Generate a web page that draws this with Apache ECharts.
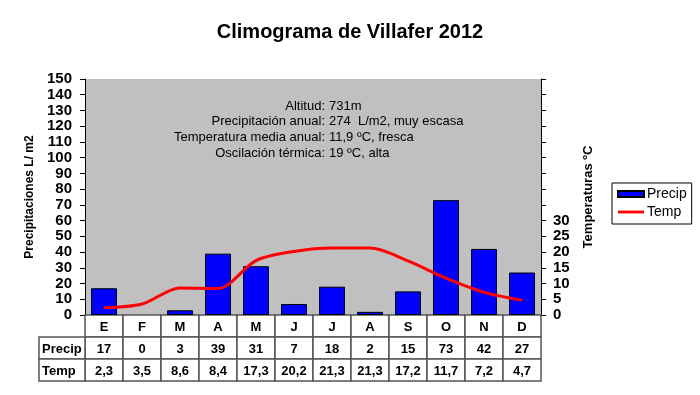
<!DOCTYPE html>
<html>
<head>
<meta charset="utf-8">
<script src="https://cdn.jsdelivr.net/npm/echarts@6/dist/echarts.min.js"></script>
<style>html,body{margin:0;padding:0;background:#fff;}#c{width:700px;height:395px;}</style>
</head>
<body>
<div id="c"></div>
<script>
const months = ['E','F','M','A','M','J','J','A','S','O','N','D'];
const precip = [17,0,3,39,31,7,18,2,15,73,42,27];
const temp = [2.3,3.5,8.6,8.4,17.3,20.2,21.3,21.3,17.2,11.7,7.2,4.7];
const rowLabels = ['', 'Precip', 'Temp'];
const precipTicks = {min:0, max:150, interval:10};
const tempTicks = {min:0, max:75, interval:5, labelMax:30};
const infoLabels = ['Altitud:', 'Precipitación anual:', 'Temperatura media anual:', 'Oscilación térmica:'];
const infoValues = ['731m', '274  L/m2, muy escasa', '11,9 ºC, fresca', '19 ºC, alta'];

const FONT = '"Liberation Sans", Arial, sans-serif';
const fmt = v => v.toFixed(1).replace('.', ',');

const chart = echarts.init(document.getElementById('c'), null, {renderer:'canvas'});

const tableData = [];
for (let r = 0; r < 3; r++) {
  for (let i = 0; i < months.length; i++) tableData.push([i, r, 0]);
}
tableData.push([0, 1, 1]);
tableData.push([0, 2, 1]);

const graphics = [];
infoLabels.forEach((t, k) => {
  graphics.push({type:'text', x: 325, y: 106 + k*15.7,
    style:{text:t, x:0, y:0, align:'right', verticalAlign:'middle', font:'13px ' + FONT, fill:'#000'}});
  graphics.push({type:'text', x: 329, y: 106 + k*15.7,
    style:{text:infoValues[k], x:0, y:0, align:'left', verticalAlign:'middle', font:'13px ' + FONT, fill:'#000'}});
});

const barData = precip.map(v => v === 0 ? {value: v, itemStyle: {borderWidth: 0}} : v);

const option = {
  animation: false,
  backgroundColor: '#fff',
  title: {
    text: 'Climograma de Villafer 2012',
    left: 'center', top: 17,
    textStyle: {fontFamily: FONT, fontSize: 20, fontWeight: 'bold', color: '#000'}
  },
  legend: {
    orient: 'vertical',
    left: 612, top: 183,
    padding: [4, 5, 5, 5],
    itemGap: 4,
    itemWidth: 26, itemHeight: 6,
    borderColor: '#000', borderWidth: 1,
    backgroundColor: '#fff',
    textStyle: {fontFamily: FONT, fontSize: 14, color: '#000', padding: [0,0,0,-2]},
    data: [
      {name:'Precip', icon:'rect'},
      {name:'Temp', icon:'path://M0,0L0,0M0,1.6L26,1.6L26,4.4L0,4.4ZM26,6L26,6', itemStyle:{color:'#ff0000', borderWidth:0}}
    ]
  },
  grid: [
    {left: 85, right: 159, top: 79, height: 236, show: true, backgroundColor: '#c0c0c0', borderWidth: 0},
    {left: 85, right: 159, top: 315, height: 66, show: false}
  ],
  xAxis: [
    {type:'category', gridIndex:0, data: months, boundaryGap: true,
      axisLine:{show:true, lineStyle:{color:'#000', width:1}}, axisTick:{show:false}, axisLabel:{show:false}},
    {type:'category', gridIndex:1, data: months, boundaryGap: true, show: false}
  ],
  yAxis: [
    {type:'value', gridIndex:0, position:'left', min:precipTicks.min, max:precipTicks.max, interval:precipTicks.interval,
      name:'Precipitaciones L/ m2', nameLocation:'middle', nameGap:47, nameRotate:90,
      nameTextStyle:{fontFamily:FONT, fontSize:12, fontWeight:'bold', color:'#000'},
      axisLine:{show:true, lineStyle:{color:'#000', width:1}},
      axisTick:{show:true, length:5, lineStyle:{color:'#000'}},
      axisLabel:{margin:13, fontFamily:FONT, fontSize:15, fontWeight:'bold', color:'#000'},
      splitLine:{show:false}},
    {type:'value', gridIndex:0, position:'right', min:tempTicks.min, max:tempTicks.max, interval:tempTicks.interval,
      name:'Temperaturas ºC', nameLocation:'middle', nameGap:41, nameRotate:90,
      nameTextStyle:{fontFamily:FONT, fontSize:13, fontWeight:'bold', color:'#000'},
      axisLine:{show:true, lineStyle:{color:'#000', width:1}},
      axisTick:{show:true, length:5, lineStyle:{color:'#000'}},
      axisLabel:{margin:12, fontFamily:FONT, fontSize:15, fontWeight:'bold', color:'#000',
        formatter: v => v <= tempTicks.labelMax ? String(v) : ''},
      splitLine:{show:false}},
    {type:'category', gridIndex:1, data: rowLabels, inverse: true, show: false}
  ],
  graphic: graphics,
  series: [
    {name:'Precip', type:'bar', xAxisIndex:0, yAxisIndex:0, data: barData, barWidth: 26,
      itemStyle:{color:'#0000ff', borderColor:'#000', borderWidth:1}},
    {name:'Temp', type:'line', xAxisIndex:0, yAxisIndex:1, data: temp, smooth: 0.3, symbol:'none',
      lineStyle:{color:'#ff0000', width:3}, itemStyle:{color:'#ff0000'}},
    {name:'table', type:'custom', xAxisIndex:1, yAxisIndex:2, clip:false, silent:true,
      data: tableData,
      renderItem: function (params, api) {
        const i = api.value(0), r = api.value(1), isLabel = api.value(2);
        const c = api.coord([i, r]);
        const sz = api.size([1, 1]);
        const w = sz[0], h = sz[1];
        let x = c[0] - w/2, y = c[1] - h/2, cw = w, text, tx, align;
        if (isLabel === 1) {
          cw = 46; x = x - cw; text = rowLabels[r]; tx = x + 3; align = 'left';
        } else {
          text = r === 0 ? months[i] : (r === 1 ? String(precip[i]) : fmt(temp[i]));
          tx = c[0]; align = 'center';
        }
        return {type:'group', children:[
          {type:'rect', shape:{x:x, y:y, width:cw, height:h},
            style:{fill:'#fff', stroke:'#555', lineWidth:1.5}},
          {type:'text', style:{text:text, x:tx, y:c[1]+1, align:align, verticalAlign:'middle',
            font:'bold 13px ' + FONT, fill:'#000'}}
        ]};
      }}
  ]
};
chart.setOption(option);
</script>
</body>
</html>
